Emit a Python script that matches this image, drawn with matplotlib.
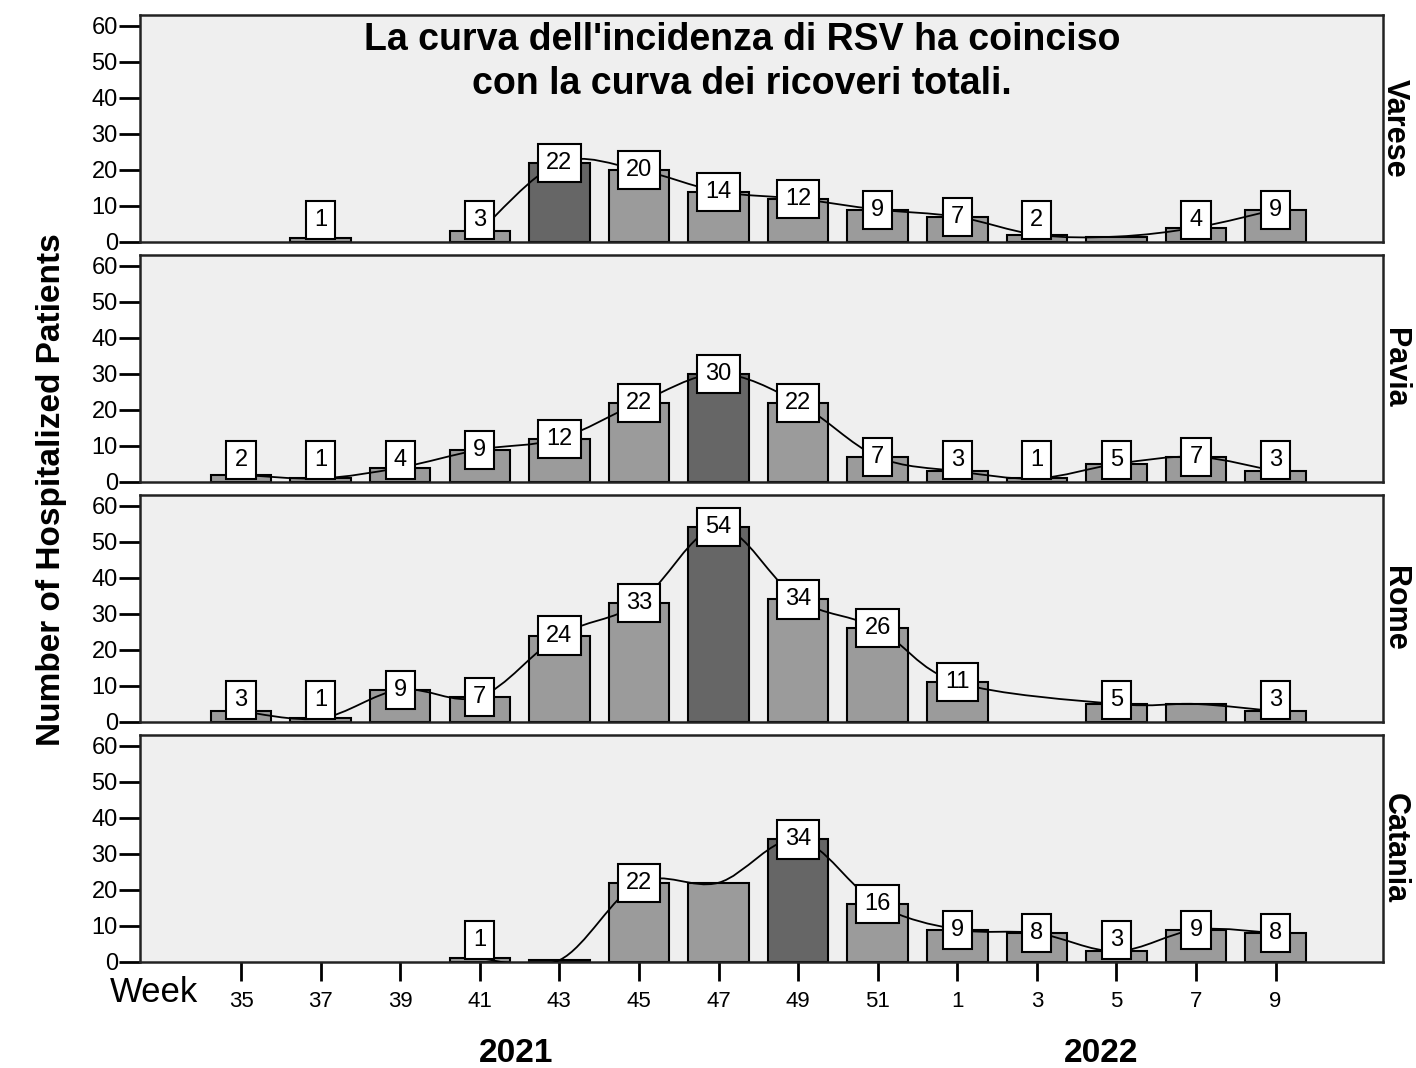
import matplotlib.pyplot as plt
from matplotlib.path import Path
from matplotlib.patches import PathPatch

plt.rcParams['font.family'] = ['Liberation Sans', 'DejaVu Sans']

weeks = ['35', '37', '39', '41', '43', '45', '47', '49', '51', '1', '3', '5', '7', '9']
cities = ['Varese', 'Pavia', 'Rome', 'Catania']

# None = no bar that week
varese = [None, 1, None, 3, 22, 20, 14, 12, 9, 7, 2, 1.5, 4, 9]
pavia = [2, 1, 4, 9, 12, 22, 30, 22, 7, 3, 1, 5, 7, 3]
rome = [3, 1, 9, 7, 24, 33, 54, 34, 26, 11, None, 5, 5, 3]
catania = [None, None, None, 1, 0.5, 22, 22, 34, 16, 9, 8, 3, 9, 8]

values = [varese, pavia, rome, catania]
peak_week = ['43', '47', '47', '49']
# weeks whose bar has no value box
no_label = [['5'], [], ['7'], ['43', '47']]
# first week of the smoothed curve
curve_from = ['41', '35', '35', '41']

title = "La curva dell'incidenza di RSV ha coinciso\ncon la curva dei ricoveri totali."


def smooth_path(xs, ys):
    # catmull-rom through the points, drawn as cubic bezier pieces
    verts = [(xs[0], ys[0])]
    codes = [Path.MOVETO]
    n = len(xs)
    for i in range(n - 1):
        x0, y0 = (xs[i - 1], ys[i - 1]) if i > 0 else (xs[i], ys[i])
        x1, y1 = xs[i], ys[i]
        x2, y2 = xs[i + 1], ys[i + 1]
        x3, y3 = (xs[i + 2], ys[i + 2]) if i + 2 < n else (x2, y2)
        verts += [(x1 + (x2 - x0) / 6, y1 + (y2 - y0) / 6),
                  (x2 - (x3 - x1) / 6, y2 - (y3 - y1) / 6),
                  (x2, y2)]
        codes += [Path.CURVE4] * 3
    return Path(verts, codes)


fig = plt.figure(figsize=(14.16, 10.68), dpi=100)
H = 1068.0
x = list(range(len(weeks)))

for k, city in enumerate(cities):
    top_px = 15 + 240 * k
    ax = fig.add_axes([140 / 1416, 1 - (top_px + 227) / H, 1243 / 1416, 227 / H])
    ax.set_facecolor('#efefef')
    vals = values[k]
    for i, v in enumerate(vals):
        if v is None:
            continue
        col = '#666666' if weeks[i] == peak_week[k] else '#9b9b9b'
        ax.bar(i, v, width=0.76, color=col, edgecolor='black', linewidth=1.5, zorder=2)

    start = weeks.index(curve_from[k])
    cx = [i for i in x[start:] if vals[i] is not None]
    cy = [vals[i] for i in cx]
    ax.add_patch(PathPatch(smooth_path(cx, cy), fill=False, edgecolor='black',
                           linewidth=1.3, zorder=3))

    for i, v in enumerate(vals):
        if v is None or weeks[i] in no_label[k]:
            continue
        ax.text(i, max(v, 6.2), str(int(v)), ha='center', va='center', fontsize=17,
                zorder=4,
                bbox=dict(boxstyle='square,pad=0.34', facecolor='white',
                          edgecolor='black', linewidth=1.5))

    ax.set_xlim(-1.27, 14.35)
    ax.set_ylim(0, 63)
    ax.set_yticks(range(0, 61, 10))
    ax.tick_params(axis='y', direction='out', length=15, width=2, pad=1, labelsize=17)
    for s in ax.spines.values():
        s.set_linewidth(1.8)
        s.set_color('#222222')
    if k == 3:
        ax.set_xticks(x)
        ax.set_xticklabels(weeks)
        ax.tick_params(axis='x', direction='out', length=14, width=2, pad=7, labelsize=16)
    else:
        ax.set_xticks([])
    fig.text(1395 / 1416, 1 - (top_px + 113) / H, city, rotation=-90, ha='center',
             va='center', fontsize=22, fontweight='bold')

fig.text(742 / 1416, 1 - 22 / H, title, ha='center', va='top', fontsize=27,
         fontweight='bold', linespacing=1.28)
fig.text(52 / 1416, 1 - 490 / H, 'Number of Hospitalized Patients', rotation=90,
         ha='center', va='center', fontsize=24, fontweight='bold')
fig.text(198 / 1416, 1 - 992 / H, 'Week', ha='right', va='center', fontsize=25)
fig.text(516 / 1416, 1 - 1053 / H, '2021', ha='center', va='center', fontsize=24,
         fontweight='bold')
fig.text(1101 / 1416, 1 - 1053 / H, '2022', ha='center', va='center', fontsize=24,
         fontweight='bold')

fig.savefig('out.png', dpi=100, facecolor='white')
